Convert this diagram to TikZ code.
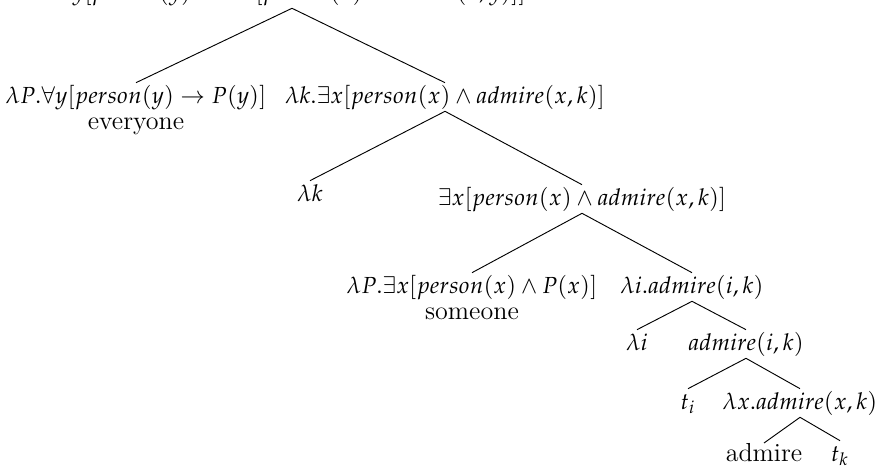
\documentclass[tikz,border=0pt]{standalone}
\usepackage{mathpazo}
\usetikzlibrary{positioning}

\begin{document}
\begin{tikzpicture}[x=0.43pt, y=-0.43pt,
  every node/.style={inner sep=1pt, text height=1.75ex, text depth=0.55ex},
  word/.style={inner sep=0pt, font=\fontsize{11.2}{13}\selectfont}]
\useasboundingbox (0,0) rectangle (877,468);
% nodes of the tree
\node[anchor=base] (root) at (292,0) {$\forall y[person(y) \rightarrow \exists x[person(x) \wedge admire(x,y)]]$};
\node (qe) at (136,97) {$\lambda P.\forall y[person(y) \rightarrow P(y)]$};
\node[word, below=0pt of qe] (qew) {everyone};
\node (ab) at (445,97) {$\lambda k.\exists x[person(x) \wedge admire(x,k)]$};
\node (lk) at (310,195) {$\lambda k$};
\node (ex) at (582,199) {$\exists x[person(x) \wedge admire(x,k)]$};
\node (qs) at (472,287) {$\lambda P.\exists x[person(x) \wedge P(x)]$};
\node[word, below=0pt of qs] (qsw) {someone};
\node (li) at (692,287) {$\lambda i.admire(i,k)$};
\node (lii) at (637,344) {$\lambda i$};
\node (ad) at (746,344) {$admire(i,k)$};
\node (ti) at (688,403) {$t_i$};
\node (lx) at (800,403) {$\lambda x.admire(x,k)$};
\node[word] (adm) at (764,455) {admire};
\node (tk) at (840,455) {$t_k$};
% branches
\draw (root.south) -- (qe.north) (root.south) -- (ab.north);
\draw (ab.south) -- (lk.north) (ab.south) -- (ex.north);
\draw (ex.south) -- (qs.north) (ex.south) -- (li.north);
\draw (li.south) -- (lii.north) (li.south) -- (ad.north);
\draw (ad.south) -- (ti.north) (ad.south) -- (lx.north);
\draw (lx.south) -- (adm.north) (lx.south) -- (tk.north);
\end{tikzpicture}
\end{document}
